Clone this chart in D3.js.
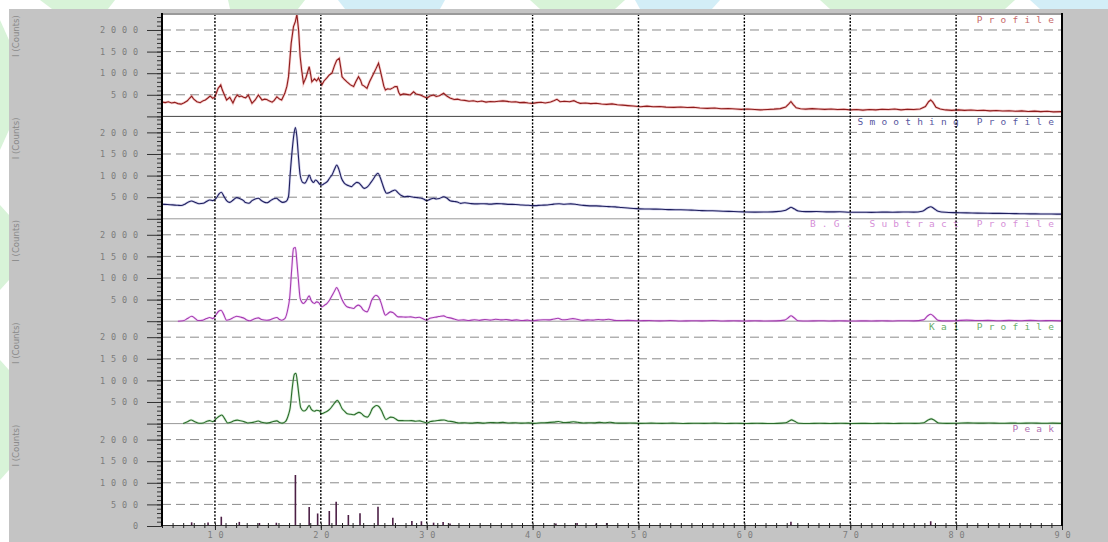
<!DOCTYPE html>
<html lang="en">
<head>
<meta charset="UTF-8">
<title>XRD Profiles</title>
<style>
    html, body { margin: 0; padding: 0; background: #fff; }
    svg { display: block; }
</style>
</head>
<body>
<svg id="chart" width="1108" height="542"></svg>
<script src="https://d3js.org/d3.v7.min.js"></script>
<script>
// ---- data (2-theta, counts) ----
const profile = [[5.0,335],[5.3,320],[5.6,338],[5.9,312],[6.2,325],[6.5,296],[6.8,284],[7.1,318],[7.4,362],[7.6,420],[7.8,470],[8.0,398],[8.3,340],[8.6,318],[8.9,365],[9.1,382],[9.3,420],[9.55,472],[9.8,418],[10.0,450],[10.3,650],[10.55,727],[10.7,610],[10.9,495],[11.1,380],[11.4,441],[11.7,310],[11.9,420],[12.1,495],[12.3,455],[12.5,470],[12.7,445],[12.9,430],[13.15,495],[13.3,410],[13.5,302],[13.8,380],[14.1,495],[14.3,430],[14.45,380],[14.7,400],[14.9,390],[15.1,360],[15.4,330],[15.6,370],[15.85,455],[16.1,400],[16.3,380],[16.6,534],[16.8,700],[16.95,920],[17.2,1690],[17.42,2080],[17.6,2200],[17.74,2360],[17.9,2000],[18.05,1380],[18.2,1050],[18.36,765],[18.6,900],[18.9,1150],[19.0,1030],[19.15,800],[19.4,870],[19.6,820],[19.78,890],[19.95,800],[20.1,730],[20.3,820],[20.57,890],[20.8,960],[21.05,1000],[21.3,1180],[21.5,1300],[21.74,1345],[21.9,1100],[22.0,920],[22.2,860],[22.47,800],[22.8,730],[23.1,690],[23.3,800],[23.56,920],[23.75,840],[23.9,730],[24.1,700],[24.36,650],[24.6,800],[24.8,900],[25.0,1000],[25.2,1100],[25.45,1230],[25.6,1080],[25.77,900],[25.95,700],[26.1,610],[26.3,640],[26.56,630],[26.8,660],[27.0,690],[27.2,690],[27.35,560],[27.5,495],[27.8,520],[28.1,510],[28.45,495],[28.76,570],[29.0,520],[29.4,495],[29.7,460],[30.03,425],[30.3,470],[30.65,495],[30.9,460],[31.2,480],[31.6,535],[31.9,470],[32.2,425],[32.6,390],[32.9,400],[33.2,380],[33.6,370],[34.0,350],[34.4,362],[34.8,340],[35.2,355],[35.6,330],[36.0,345],[36.4,338],[36.8,350],[37.2,360],[37.6,348],[38.0,332],[38.4,340],[38.8,318],[39.2,325],[39.6,310],[40.0,302],[40.4,318],[40.8,326],[41.2,310],[41.7,335],[42.0,360],[42.3,395],[42.6,340],[43.0,352],[43.5,338],[43.9,365],[44.2,330],[44.5,302],[45.0,310],[45.5,296],[46.0,305],[46.5,288],[47.0,279],[47.5,290],[48.0,268],[48.5,262],[49.0,250],[49.5,240],[50.2,225],[50.8,238],[51.4,222],[52.0,230],[52.6,215],[53.35,210],[54.0,218],[54.6,205],[55.2,212],[55.8,196],[56.5,186],[57.2,195],[57.8,178],[58.5,182],[59.2,170],[59.7,163],[60.3,170],[61.0,158],[61.5,150],[62.2,160],[62.8,168],[63.4,180],[63.9,215],[64.2,290],[64.4,345],[64.6,280],[64.9,200],[65.3,176],[65.8,168],[66.4,180],[67.0,170],[67.6,162],[68.2,172],[68.8,158],[69.4,166],[70.0,150],[70.6,158],[71.2,145],[71.8,160],[72.4,150],[73.0,165],[73.6,158],[74.2,170],[74.8,152],[75.4,165],[76.0,158],[76.6,170],[77.1,230],[77.4,340],[77.6,380],[77.8,330],[78.1,210],[78.5,170],[79.0,150],[79.6,140],[80.2,152],[80.8,140],[81.4,148],[82.0,135],[82.6,142],[83.2,128],[83.8,138],[84.4,125],[85.0,132],[85.6,120],[86.2,128],[86.8,115],[87.4,122],[88.0,110],[88.6,118],[89.2,105],[90.0,110]];

const smoothing = [[5.0,338],[5.5,330],[6.0,322],[6.5,312],[6.8,308],[7.2,345],[7.5,390],[7.8,412],[8.1,385],[8.5,350],[8.9,360],[9.2,400],[9.5,435],[9.8,420],[10.1,470],[10.4,580],[10.6,613],[10.85,520],[11.1,420],[11.4,380],[11.7,430],[12.06,489],[12.4,460],[12.7,420],[12.9,375],[13.2,360],[13.5,420],[13.8,460],[14.1,474],[14.4,420],[14.7,380],[14.9,370],[15.2,410],[15.5,460],[15.8,474],[16.1,420],[16.4,381],[16.7,400],[16.95,520],[17.1,1014],[17.3,1600],[17.45,1940],[17.6,2110],[17.74,1900],[17.9,1400],[18.05,1014],[18.3,840],[18.5,825],[18.75,930],[18.9,1014],[19.1,900],[19.3,840],[19.5,898],[19.7,860],[19.9,800],[20.1,782],[20.35,820],[20.6,860],[20.85,950],[21.05,1014],[21.3,1150],[21.5,1245],[21.7,1150],[21.95,937],[22.2,830],[22.47,782],[22.7,760],[22.9,744],[23.1,790],[23.4,844],[23.6,830],[23.85,760],[24.1,705],[24.4,740],[24.7,830],[25.0,937],[25.25,1030],[25.4,1053],[25.6,960],[25.8,820],[26.0,680],[26.2,590],[26.5,610],[26.8,650],[27.0,667],[27.3,600],[27.6,540],[27.9,512],[28.2,520],[28.5,512],[28.8,500],[29.1,490],[29.4,480],[29.7,460],[30.0,420],[30.3,450],[30.65,474],[30.9,460],[31.2,470],[31.6,512],[31.9,480],[32.2,420],[32.6,400],[32.9,390],[33.2,358],[33.6,370],[34.2,352],[34.8,345],[35.4,350],[36.0,340],[36.6,352],[37.2,345],[37.8,335],[38.4,330],[39.0,318],[39.6,312],[40.2,305],[40.8,315],[41.4,320],[42.0,340],[42.5,350],[43.0,338],[43.6,345],[44.2,330],[44.8,310],[45.4,300],[46.0,298],[46.6,290],[47.2,282],[47.8,275],[48.4,262],[49.0,250],[49.8,235],[50.6,228],[51.4,225],[52.2,220],[53.0,212],[54.0,210],[55.0,200],[56.0,190],[57.0,185],[58.0,175],[59.0,168],[60.0,160],[61.0,155],[62.0,158],[63.0,165],[63.8,190],[64.2,240],[64.4,266],[64.7,230],[65.1,180],[65.8,165],[66.8,168],[68.0,160],[69.0,162],[70.0,150],[71.0,152],[72.0,148],[73.0,155],[74.0,152],[75.0,158],[76.0,155],[76.8,175],[77.3,250],[77.6,280],[77.9,240],[78.3,175],[79.0,150],[80.0,142],[81.0,138],[82.0,132],[83.0,128],[84.0,125],[85.0,122],[86.0,118],[87.0,115],[88.0,112],[89.0,110],[90.0,108]];

const bgSubtract = [[6.5,0],[7.0,10],[7.4,60],[7.8,116],[8.1,70],[8.4,15],[8.8,20],[9.2,60],[9.5,85],[9.8,60],[10.1,150],[10.35,230],[10.58,255],[10.8,170],[11.1,23],[11.4,40],[11.8,90],[12.06,116],[12.4,95],[12.8,62],[13.0,30],[13.3,10],[13.6,40],[13.9,70],[14.1,77],[14.4,40],[14.9,23],[15.2,30],[15.5,65],[15.85,85],[16.1,40],[16.3,23],[16.6,60],[16.9,300],[17.05,525],[17.25,1200],[17.42,1683],[17.6,1706],[17.74,1374],[17.9,900],[18.05,525],[18.36,409],[18.6,470],[18.9,587],[19.1,470],[19.4,409],[19.6,448],[19.8,430],[20.1,332],[20.35,370],[20.57,409],[20.8,480],[21.05,587],[21.3,700],[21.5,780],[21.7,690],[22.0,500],[22.2,409],[22.47,332],[22.8,310],[23.1,293],[23.3,340],[23.56,371],[23.8,330],[24.0,260],[24.36,216],[24.6,330],[24.8,486],[25.0,560],[25.2,602],[25.45,560],[25.7,420],[25.9,250],[26.1,139],[26.3,170],[26.56,216],[26.8,200],[27.0,160],[27.3,100],[27.6,100],[28.0,95],[28.5,100],[28.9,80],[29.3,90],[29.6,62],[30.0,23],[30.3,70],[30.65,85],[31.0,100],[31.3,116],[31.6,124],[31.9,90],[32.2,77],[32.6,50],[33.0,23],[33.5,30],[34.0,15],[34.5,35],[35.0,20],[35.5,40],[36.0,25],[36.5,45],[37.0,30],[37.5,40],[38.0,20],[38.5,30],[39.0,15],[39.5,25],[40.0,10],[40.5,25],[41.0,35],[41.5,30],[42.0,50],[42.4,70],[42.8,35],[43.3,40],[43.8,60],[44.2,45],[44.7,20],[45.2,30],[45.7,25],[46.2,40],[46.7,30],[47.2,45],[47.7,20],[48.2,15],[49.0,20],[50.0,10],[51.0,15],[52.0,8],[53.0,15],[54.0,5],[55.0,12],[56.0,8],[57.0,15],[58.0,6],[59.0,10],[60.0,5],[61.0,10],[62.0,5],[63.0,8],[63.8,25],[64.2,90],[64.4,125],[64.7,80],[65.1,10],[66.0,5],[67.0,12],[68.0,6],[69.0,10],[70.0,4],[71.0,8],[72.0,5],[73.0,10],[74.0,6],[75.0,12],[76.0,8],[76.9,30],[77.3,120],[77.6,160],[77.9,110],[78.3,20],[79.0,8],[80.0,12],[81.0,25],[82.0,15],[83.0,20],[84.0,10],[85.0,18],[86.0,12],[87.0,20],[88.0,10],[89.0,15],[90.0,8]];

const ka1 = [[7.0,0],[7.4,40],[7.75,83],[8.1,45],[8.5,8],[8.9,15],[9.2,50],[9.5,70],[9.8,45],[10.1,110],[10.4,170],[10.65,200],[10.9,120],[11.2,15],[11.5,30],[11.8,65],[12.1,80],[12.4,65],[12.8,40],[13.1,15],[13.5,25],[13.9,50],[14.1,60],[14.4,30],[14.9,12],[15.2,22],[15.5,48],[15.85,62],[16.1,28],[16.35,12],[16.65,45],[16.95,210],[17.1,360],[17.3,820],[17.5,1140],[17.65,1165],[17.8,930],[17.95,620],[18.1,370],[18.4,290],[18.65,330],[18.9,420],[19.1,330],[19.4,285],[19.6,310],[19.85,295],[20.1,230],[20.35,255],[20.6,285],[20.85,335],[21.1,410],[21.35,490],[21.55,540],[21.75,480],[22.0,350],[22.25,285],[22.5,230],[22.85,215],[23.15,205],[23.35,235],[23.6,260],[23.85,230],[24.05,180],[24.4,150],[24.65,230],[24.85,340],[25.05,390],[25.25,420],[25.5,390],[25.75,290],[25.95,175],[26.15,95],[26.35,120],[26.6,150],[26.85,140],[27.05,110],[27.35,70],[27.7,70],[28.1,65],[28.55,70],[28.95,55],[29.35,62],[29.65,42],[30.05,15],[30.35,48],[30.7,60],[31.05,70],[31.35,80],[31.65,85],[31.95,62],[32.25,52],[32.65,35],[33.05,15],[33.6,20],[34.2,10],[34.8,22],[35.4,12],[36.0,25],[36.6,18],[37.2,28],[37.8,14],[38.4,20],[39.0,10],[39.6,16],[40.2,6],[40.8,20],[41.4,22],[42.0,34],[42.45,48],[42.9,24],[43.4,28],[43.85,42],[44.25,30],[44.8,14],[45.3,20],[45.8,16],[46.3,28],[46.8,20],[47.3,30],[47.8,14],[48.4,10],[49.2,14],[50.2,6],[51.2,10],[52.2,5],[53.2,10],[54.2,3],[55.2,8],[56.2,5],[57.2,10],[58.2,4],[59.2,7],[60.2,3],[61.2,7],[62.2,3],[63.1,5],[63.9,18],[64.25,62],[64.45,86],[64.75,55],[65.15,7],[66.1,3],[67.1,8],[68.1,4],[69.1,7],[70.1,3],[71.1,5],[72.1,3],[73.1,7],[74.1,4],[75.1,8],[76.1,5],[76.95,20],[77.35,82],[77.65,110],[77.95,75],[78.35,14],[79.1,5],[80.1,8],[81.1,17],[82.1,10],[83.1,14],[84.1,7],[85.1,12],[86.1,8],[87.1,14],[88.1,7],[89.1,10],[90.0,5]];

const peaks = [[7.8,85],[9.35,80],[10.6,215],[12.3,95],[14.2,70],[15.8,75],[17.6,1180],[18.9,440],[19.7,290],[20.8,347],[21.45,563],[22.6,255],[23.7,293],[25.4,447],[26.8,193],[28.6,116],[29.5,110],[30.65,77],[31.55,95],[32.2,60],[42.2,60],[44.2,70],[46.0,55],[47.0,70],[64.4,100],[77.6,110]];

const panelNames = ["Profile", "Smoothing Profile", "B.G. Subtract Profile", "Ka1 Profile", "Peak"];
const xLabels = [10, 20, 30, 40, 50, 60, 70, 80, 90];
const gridValues = [500, 1000, 1500, 2000];

// ---- layout ----
const svg = d3.select("#chart");
const plotL = 162, plotR = 1062, plotT = 14, plotB = 526;
const nPanels = 5;
const ph = (plotB - plotT) / nPanels;

const x = d3.scaleLinear().domain([5, 90]).range([plotL, plotR]);

const lineColors = ["#8e1c1c", "#1f1f5e", "#a43cb0", "#2b6b2b", "#4c1f45"];
const haloColors = ["#e06060", "#8080c8", "#e8a0f0", "#90d090", null];
const labelColors = ["#c86a6a", "#5858a0", "#d690d8", "#6aae6a", "#b070b0"];
const series = [profile, smoothing, bgSubtract, ka1];

// watermark shapes in the white margin
const marks = [
    {fill: "#d8f3d8", pts: [[40,0],[115,0],[108,9],[52,9]]},
    {fill: "#d8f3d8", pts: [[228,0],[305,0],[298,9],[230,9]]},
    {fill: "#d3eef7", pts: [[338,0],[445,0],[440,9],[345,9]]},
    {fill: "#d8f3d8", pts: [[530,0],[625,0],[615,9],[540,9]]},
    {fill: "#d3eef7", pts: [[635,0],[720,0],[712,9],[640,9]]},
    {fill: "#d8f3d8", pts: [[820,0],[1015,0],[1005,9],[830,9]]},
    {fill: "#d3eef7", pts: [[1030,0],[1108,0],[1108,9],[1040,9]]},
    {fill: "#d8f3d8", pts: [[0,20],[9,40],[9,130],[0,150]]},
    {fill: "#d8f3d8", pts: [[0,205],[9,215],[9,280],[0,290]]},
    {fill: "#d8f3d8", pts: [[0,360],[9,370],[9,470],[0,480]]}
];
svg.selectAll("polygon.wm").data(marks).enter().append("polygon")
    .attr("class", "wm")
    .attr("points", d => d.pts.map(p => p.join(",")).join(" "))
    .attr("fill", d => d.fill);

// gray window and white plot area
svg.append("rect").attr("x", 9).attr("y", 9).attr("width", 1099).attr("height", 533).attr("fill", "#c4c4c4");
svg.append("rect").attr("x", plotL).attr("y", plotT).attr("width", plotR - plotL).attr("height", plotB - plotT).attr("fill", "#fff");

svg.append("defs").append("clipPath").attr("id", "plotclip")
    .append("rect").attr("x", plotL).attr("y", plotT).attr("width", plotR - plotL).attr("height", plotB - plotT);

const monoFont = "'DejaVu Sans Mono', 'Liberation Mono', monospace";

for (let i = 0; i < nPanels; i++) {
    const pTop = plotT + i * ph;
    const y = d3.scaleLinear().domain([0, 2370]).range([pTop + ph, pTop]);
    const g = svg.append("g");

    // dashed horizontal grid
    g.selectAll("line.hgrid").data(gridValues).enter().append("line")
        .attr("x1", plotL).attr("x2", plotR)
        .attr("y1", d => y(d)).attr("y2", d => y(d))
        .attr("stroke", "#8a8a8a").attr("stroke-width", 1)
        .attr("stroke-dasharray", "9,5");

    // y axis ticks (minor + major)
    const minor = d3.axisLeft(y).tickValues(d3.range(0, 2400, 100)).tickSize(5).tickFormat("");
    g.append("g").attr("transform", `translate(${plotL},0)`).call(minor)
        .call(a => a.select(".domain").remove())
        .call(a => a.selectAll("line").attr("stroke", "#333"));

    const labelled = i === nPanels - 1 ? [0, 500, 1000, 1500, 2000] : [500, 1000, 1500, 2000];
    const major = d3.axisLeft(y).tickValues([0, 500, 1000, 1500, 2000]).tickSize(15)
        .tickFormat(d => labelled.includes(d) ? d : "");
    g.append("g").attr("transform", `translate(${plotL},0)`).call(major)
        .call(a => a.select(".domain").remove())
        .call(a => a.selectAll("line").attr("stroke", "#333"))
        .call(a => a.selectAll("text")
            .attr("x", -18).attr("dx", 0)
            .attr("font-family", monoFont).attr("font-size", 8.5)
            .attr("letter-spacing", 5.9).attr("fill", "#7c7c7c"));

    // y title
    g.append("text")
        .attr("transform", `translate(19,${pTop + 22}) rotate(-90)`)
        .attr("text-anchor", "middle")
        .attr("font-family", "'Liberation Sans Narrow', 'DejaVu Sans Condensed', sans-serif")
        .attr("font-size", 9.5).attr("fill", "#8a8a8a")
        .text("I (Counts)");

    // panel separator
    if (i < nPanels - 1) {
        g.append("line").attr("x1", plotL).attr("x2", plotR)
            .attr("y1", pTop + ph).attr("y2", pTop + ph)
            .attr("stroke", i === 0 ? "#444" : "#999").attr("stroke-width", 1);
    }

    // data
    const plot = g.append("g").attr("clip-path", "url(#plotclip)");
    if (i < 4) {
        const line = d3.line().x(d => x(d[0])).y(d => y(d[1]));
        if (i > 0) line.curve(d3.curveMonotoneX);
        plot.append("path").datum(series[i])
            .attr("d", line).attr("fill", "none")
            .attr("stroke", haloColors[i]).attr("stroke-opacity", 0.35).attr("stroke-width", 2.6);
        plot.append("path").datum(series[i])
            .attr("d", line).attr("fill", "none")
            .attr("stroke", lineColors[i]).attr("stroke-width", 1.1);
    } else {
        plot.selectAll("line.pk").data(peaks).enter().append("line")
            .attr("x1", d => x(d[0])).attr("x2", d => x(d[0]))
            .attr("y1", y(0)).attr("y2", d => y(d[1]))
            .attr("stroke", lineColors[4]).attr("stroke-width", 1.6);
    }

    // series label
    g.append("text")
        .attr("x", 1054 + 6.2).attr("y", pTop + 8.5)
        .attr("text-anchor", "end")
        .attr("font-family", monoFont).attr("font-size", 9.5)
        .attr("letter-spacing", 6.2).attr("fill", labelColors[i])
        .text(panelNames[i]);
}

// vertical dotted grid
svg.selectAll("line.vgrid").data(xLabels.filter(d => d < 90)).enter().append("line")
    .attr("x1", d => x(d)).attr("x2", d => x(d))
    .attr("y1", plotT).attr("y2", plotB)
    .attr("stroke", "#000").attr("stroke-width", 1.4)
    .attr("stroke-dasharray", "2,1.5");

// x axis
const xMinor = d3.axisBottom(x).tickValues(d3.range(5, 91)).tickSize(3).tickFormat("");
svg.append("g").attr("transform", `translate(0,${plotB - 1})`).call(xMinor)
    .call(a => a.select(".domain").attr("stroke", "#333"))
    .call(a => a.selectAll("line").attr("stroke", "#222").attr("y1", -2));

const xMajor = d3.axisBottom(x).tickValues(xLabels).tickSize(4);
svg.append("g").attr("transform", `translate(0,${plotB})`).call(xMajor)
    .call(a => a.select(".domain").remove())
    .call(a => a.selectAll("line").attr("stroke", "#222"))
    .call(a => a.selectAll("text")
        .attr("y", 6).attr("dx", 3)
        .attr("font-family", monoFont).attr("font-size", 8.5)
        .attr("letter-spacing", 5.9).attr("fill", "#7c7c7c"));

// frame
svg.append("line").attr("x1", plotL).attr("x2", plotR).attr("y1", plotT).attr("y2", plotT)
    .attr("stroke", "#9a9a9a").attr("stroke-width", 2);
svg.append("line").attr("x1", plotL).attr("x2", plotL).attr("y1", plotT - 1).attr("y2", plotB)
    .attr("stroke", "#000").attr("stroke-width", 2);
svg.append("line").attr("x1", plotR).attr("x2", plotR).attr("y1", plotT - 1).attr("y2", plotB)
    .attr("stroke", "#000").attr("stroke-width", 2);
</script>
</body>
</html>
